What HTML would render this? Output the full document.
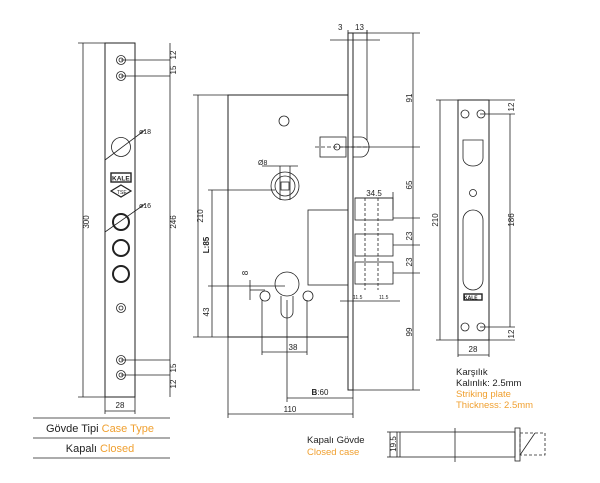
<!DOCTYPE html>
<html><head><meta charset="utf-8"><style>
html,body{margin:0;padding:0;background:#fff;}
svg{display:block;font-family:"Liberation Sans",sans-serif;}
</style></head><body>
<svg width="600" height="483" viewBox="0 0 600 483" xmlns="http://www.w3.org/2000/svg">
<g stroke="#222" stroke-width="0.8" fill="none">
<!-- LEFT FACEPLATE -->
<rect x="105" y="43" width="30" height="354" stroke-width="1"/>
<line x1="83" y1="43" x2="83" y2="397"/>
<line x1="78" y1="43" x2="105" y2="43"/><line x1="78" y1="397" x2="105" y2="397"/>
<line x1="170" y1="43" x2="170" y2="397"/>
<line x1="121" y1="60" x2="170" y2="60"/><line x1="121" y1="76" x2="170" y2="76"/>
<line x1="121" y1="360" x2="170" y2="360"/><line x1="121" y1="375" x2="170" y2="375"/>
<line x1="105" y1="397" x2="105" y2="414"/><line x1="135" y1="397" x2="135" y2="414"/>
<line x1="105" y1="411" x2="135" y2="411"/>
<circle cx="121" cy="60" r="4.5"/><circle cx="121" cy="60" r="2"/>
<circle cx="121" cy="76" r="4.5"/><circle cx="121" cy="76" r="2"/>
<circle cx="121" cy="147" r="9.5"/>
<line x1="105" y1="160" x2="145" y2="130"/>
<circle cx="121" cy="222" r="8" stroke-width="2"/>
<circle cx="121" cy="248" r="8" stroke-width="2"/>
<circle cx="121" cy="274" r="8" stroke-width="2"/>
<line x1="105" y1="232" x2="145" y2="204"/>
<circle cx="121" cy="308" r="4.5"/><circle cx="121" cy="308" r="2"/>
<circle cx="121" cy="360" r="4.5"/><circle cx="121" cy="360" r="2"/>
<circle cx="121" cy="375" r="4.5"/><circle cx="121" cy="375" r="2"/>
<rect x="111" y="173" width="20" height="9" stroke-width="1.4"/>
<polygon points="121,185 131,191 121,197 111,191" stroke-width="1.2"/>
<!-- MIDDLE LOCK -->
<rect x="228" y="95" width="120" height="242" stroke-width="1"/>
<rect x="348" y="33" width="5" height="357" stroke-width="1"/>
<line x1="353" y1="33" x2="367" y2="33"/><line x1="367" y1="30" x2="367" y2="140"/>
<line x1="353" y1="33" x2="420" y2="33"/><line x1="353" y1="390" x2="420" y2="390"/>
<line x1="413" y1="33" x2="413" y2="390"/>
<line x1="340" y1="147" x2="420" y2="147"/><line x1="393" y1="218" x2="420" y2="218"/>
<line x1="393" y1="245" x2="420" y2="245"/><line x1="393" y1="273" x2="420" y2="273"/>
<line x1="348" y1="40" x2="348" y2="30"/><line x1="367" y1="40" x2="367" y2="30"/>
<line x1="330" y1="40" x2="380" y2="40"/>
<circle cx="284" cy="121" r="5"/>
<rect x="320" y="137" width="26" height="20"/>
<path d="M353 137 h8 a8 10 0 0 1 0 20 h-8"/>
<circle cx="337" cy="147" r="3"/>
<line x1="315" y1="147" x2="370" y2="147" stroke-dasharray="4,2"/>
<circle cx="285" cy="186" r="14"/><circle cx="285" cy="186" r="10"/>
<rect x="281" y="182" width="8" height="8"/>
<line x1="262" y1="166" x2="298" y2="166"/>
<line x1="280" y1="166" x2="280" y2="200"/><line x1="290" y1="166" x2="290" y2="200"/>
<rect x="308" y="210" width="40" height="75"/>
<rect x="355" y="198" width="38" height="22"/>
<rect x="355" y="234" width="38" height="22"/>
<rect x="355" y="262" width="38" height="22"/>
<line x1="355" y1="198" x2="393" y2="198"/><line x1="393" y1="192" x2="393" y2="210"/>
<line x1="378" y1="198" x2="378" y2="290" stroke-dasharray="3,2"/>
<line x1="365" y1="198" x2="365" y2="290" stroke-dasharray="3,2"/>
<line x1="198" y1="95" x2="198" y2="337"/>
<line x1="193" y1="95" x2="228" y2="95"/><line x1="193" y1="337" x2="228" y2="337"/>
<line x1="212" y1="190" x2="212" y2="337"/>
<line x1="208" y1="190" x2="275" y2="190"/><line x1="208" y1="286" x2="285" y2="286"/>
<circle cx="287" cy="284" r="12"/>
<circle cx="265" cy="296" r="5"/><circle cx="308" cy="296" r="5"/>
<path d="M281 296 v16 a6 6 0 0 0 12 0 v-16"/>
<line x1="250" y1="280" x2="250" y2="300"/><line x1="250" y1="290" x2="265" y2="290"/>
<line x1="262" y1="300" x2="262" y2="355"/><line x1="307" y1="300" x2="307" y2="355"/>
<line x1="262" y1="352" x2="307" y2="352"/>
<line x1="287" y1="300" x2="287" y2="402"/>
<line x1="287" y1="398" x2="353" y2="398"/><line x1="353" y1="390" x2="353" y2="418"/>
<line x1="228" y1="337" x2="228" y2="418"/>
<line x1="228" y1="414" x2="353" y2="414"/>
<line x1="340" y1="301" x2="400" y2="301"/>
<!-- RIGHT STRIKE PLATE -->
<rect x="458" y="100" width="31" height="240" stroke-width="1"/>
<line x1="440" y1="100" x2="440" y2="340"/>
<line x1="436" y1="100" x2="458" y2="100"/><line x1="436" y1="340" x2="458" y2="340"/>
<line x1="510" y1="114" x2="510" y2="327"/>
<line x1="480" y1="114" x2="515" y2="114"/><line x1="480" y1="327" x2="515" y2="327"/>
<line x1="489" y1="100" x2="515" y2="100"/><line x1="489" y1="340" x2="515" y2="340"/>
<circle cx="465" cy="114" r="4"/><circle cx="481" cy="114" r="4"/>
<circle cx="465" cy="327" r="4"/><circle cx="481" cy="327" r="4"/>
<circle cx="473" cy="193" r="3.5"/>
<path d="M463 140 h20 v18 a10 8 0 0 1 -20 0 z"/>
<rect x="463" y="210" width="20" height="80" rx="10"/>
<rect x="464" y="294" width="18" height="6" stroke-width="1.4"/>
<line x1="458" y1="340" x2="458" y2="357"/><line x1="489" y1="340" x2="489" y2="357"/>
<line x1="458" y1="355" x2="489" y2="355"/>
<!-- TABLE -->
<line x1="33" y1="418" x2="170" y2="418"/>
<line x1="33" y1="438" x2="170" y2="438"/>
<line x1="33" y1="458" x2="170" y2="458"/>
<!-- BOTTOM SIDE VIEW -->
<rect x="397" y="432" width="118" height="25"/>
<line x1="400" y1="432" x2="400" y2="457"/>
<line x1="387" y1="432" x2="397" y2="432"/><line x1="387" y1="457" x2="397" y2="457"/>
<line x1="390" y1="432" x2="390" y2="457"/>
<line x1="455" y1="428" x2="455" y2="462"/>
<rect x="515" y="428" width="5" height="33"/>
<rect x="520" y="433" width="25" height="22" stroke-dasharray="3,2"/>
<line x1="520" y1="455" x2="535" y2="433"/>
</g>
<g font-size="8" fill="#222">
<text transform="translate(89,222) rotate(-90)" text-anchor="middle">300</text>
<text transform="translate(176,222) rotate(-90)" text-anchor="middle">246</text>
<text transform="translate(176,55) rotate(-90)" text-anchor="middle">12</text>
<text transform="translate(176,70) rotate(-90)" text-anchor="middle">15</text>
<text transform="translate(176,368) rotate(-90)" text-anchor="middle">15</text>
<text transform="translate(176,384) rotate(-90)" text-anchor="middle">12</text>
<text x="120" y="408" text-anchor="middle">28</text>
<text x="139" y="134" font-size="7">ø18</text><text x="139" y="208" font-size="7">ø16</text>
<text x="112" y="180.5" font-size="6.5" font-weight="bold">KALE</text>
<text x="117" y="194" font-size="5">TSE</text>
<text x="338" y="30">3</text><text x="355" y="30">13</text>
<text transform="translate(203,216) rotate(-90)" text-anchor="middle">210</text>
<text transform="translate(209,245) rotate(-90)" text-anchor="middle" font-weight="bold">L:85</text>
<text transform="translate(209,312) rotate(-90)" text-anchor="middle">43</text>
<text transform="translate(248,273) rotate(-90)" text-anchor="middle">8</text>
<text x="258" y="165" font-size="7">Ø8</text>
<text x="374" y="196" text-anchor="middle">34.5</text>
<text x="293" y="350" text-anchor="middle">38</text>
<text x="320" y="395" text-anchor="middle"><tspan font-weight="bold">B</tspan>:60</text>
<text x="290" y="412" text-anchor="middle">110</text>
<text x="353" y="299" font-size="5">11.5</text><text x="379" y="299" font-size="5">11.5</text>
<text transform="translate(412,98) rotate(-90)" text-anchor="middle">91</text>
<text transform="translate(412,185) rotate(-90)" text-anchor="middle">65</text>
<text transform="translate(412,236) rotate(-90)" text-anchor="middle">23</text>
<text transform="translate(412,262) rotate(-90)" text-anchor="middle">23</text>
<text transform="translate(412,332) rotate(-90)" text-anchor="middle">99</text>
<text transform="translate(438,220) rotate(-90)" text-anchor="middle">210</text>
<text transform="translate(514,220) rotate(-90)" text-anchor="middle">186</text>
<text transform="translate(514,107) rotate(-90)" text-anchor="middle">12</text>
<text transform="translate(514,334) rotate(-90)" text-anchor="middle">12</text>
<text x="473" y="352" text-anchor="middle">28</text>
<text x="464" y="299.5" font-size="5" font-weight="bold">KALE</text>
<text transform="translate(396,444) rotate(-90)" text-anchor="middle">19.5</text>
</g>
<g font-size="9.5" fill="#222">
<text x="456" y="375">Karşılık</text>
<text x="456" y="386">Kalınlık: 2.5mm</text>
<text x="456" y="397" fill="#f0a030">Striking plate</text>
<text x="456" y="408" fill="#f0a030">Thickness: 2.5mm</text>
<text x="307" y="443">Kapalı Gövde</text>
<text x="307" y="455" fill="#f0a030">Closed case</text>
</g>
<g font-size="11" fill="#222" text-anchor="middle">
<text x="100" y="432">Gövde Tipi <tspan fill="#f0a030">Case Type</tspan></text>
<text x="100" y="452">Kapalı <tspan fill="#f0a030">Closed</tspan></text>
</g>
</svg>
</body></html>
